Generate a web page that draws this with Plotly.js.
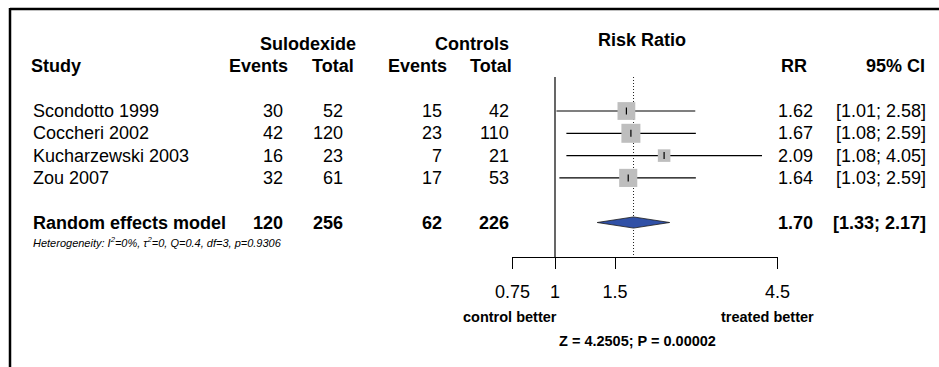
<!DOCTYPE html>
<html>
<head>
<meta charset="utf-8">
<script src="https://cdn.plot.ly/plotly-3.0.1.min.js"></script>
<style>html,body{margin:0;padding:0;background:#fff;}#chart{width:939px;height:367px;}</style>
</head>
<body>
<div id="chart"></div>
<script>
// ---- data ----
const studies = ["Scondotto 1999", "Coccheri 2002", "Kucharzewski 2003", "Zou 2007"];
const sulEvents = [30, 42, 16, 32];
const sulTotal = [52, 120, 23, 61];
const ctlEvents = [15, 23, 7, 17];
const ctlTotal = [42, 110, 21, 53];
const rr = [1.62, 1.67, 2.09, 1.64];
const ciLow = [1.01, 1.08, 1.08, 1.03];
const ciHigh = [2.58, 2.59, 4.05, 2.59];
const pooledLabel = "Random effects model";
const pooledCounts = [120, 256, 62, 226];
const pooledRR = [1.70, 1.33, 2.17]; // estimate, lower, upper
const tickVals = [0.75, 1, 1.5, 4.5];
const tickText = ["0.75", "1", "1.5", "4.5"];
const hetText = "Heterogeneity: I<sup>2</sup>=0%, τ<sup>2</sup>=0, Q=0.4, df=3, p=0.9306";
const testText = "Z = 4.2505; P = 0.00002";
const leftLabel = "control better";
const rightLabel = "treated better";

// ---- geometry (layout only) ----
const W = 939, H = 367;
const NULL_PX = 555, PX_PER_LN = 148;
const PX_PER_LOG10 = PX_PER_LN * Math.LN10;
const xr = [(0 - NULL_PX) / PX_PER_LOG10, (W - NULL_PX) / PX_PER_LOG10];
const ROW0 = 111, ROWH = 22.3;
const yr = [(H - ROW0) / ROWH, (0 - ROW0) / ROWH];
const rowOfPx = p => (p - ROW0) / ROWH;
const px = p => p / W;
const fam = "Liberation Sans, Arial, Helvetica, sans-serif";
const FS = 18;

const rows = studies.map((s, i) => i);
const sumRow = studies.length + 1;
const topY = rowOfPx(77), axisY = rowOfPx(257);

// box side ∝ sqrt(inverse-variance weight); drawn as data-space rectangles
const w = studies.map((s, i) => 1 / (1 / sulEvents[i] - 1 / sulTotal[i] + 1 / ctlEvents[i] - 1 / ctlTotal[i]));
const wmax = Math.max(...w);
const MAXBOX = 19; // px
const boxHalf = w.map(v => MAXBOX * Math.sqrt(v / wmax) / 2);

const traces = [
  { x: [pooledRR[0], pooledRR[0]], y: [topY, axisY], mode: "lines", line: { color: "#222", width: 1, dash: "1px,2px" }, hoverinfo: "skip" },
  { x: [1, 1], y: [topY, axisY], mode: "lines", line: { color: "black", width: 1.2 }, hoverinfo: "skip" }
];
// CI lines
studies.forEach((s, i) => {
  traces.push({ x: [ciLow[i], ciHigh[i]], y: [rows[i], rows[i]], mode: "lines", line: { color: "black", width: 1.2 }, hoverinfo: "skip" });
});
// boxes
studies.forEach((s, i) => {
  const fx = Math.exp(boxHalf[i] / PX_PER_LN), dy = boxHalf[i] / ROWH;
  const x0 = rr[i] / fx, x1 = rr[i] * fx;
  traces.push({ x: [x0, x1, x1, x0, x0], y: [rows[i] - dy, rows[i] - dy, rows[i] + dy, rows[i] + dy, rows[i] - dy],
    mode: "lines", fill: "toself", fillcolor: "#BEBEBE", line: { width: 0, color: "rgba(0,0,0,0)" }, hoverinfo: "skip" });
});
// point estimate ticks
traces.push({ x: rr, y: rows, mode: "markers", marker: { symbol: "line-ns", size: 5, line: { width: 1.2, color: "black" } }, hoverinfo: "skip" });
// pooled diamond
traces.push({ x: [pooledRR[1], pooledRR[0], pooledRR[2], pooledRR[0], pooledRR[1]],
  y: [sumRow, sumRow - 0.25, sumRow, sumRow + 0.25, sumRow], mode: "lines", fill: "toself",
  fillcolor: "#3050A6", line: { color: "#1a1a1a", width: 0.8 }, hoverinfo: "skip" });
// anchor trace for the visible RR axis
traces.push({ x: [1], y: [-100], xaxis: "x2", yaxis: "y", mode: "markers", marker: { size: 1, color: "rgba(0,0,0,0)" }, hoverinfo: "skip" });

const anns = [];
function A(text, xp, row, anchor, opts) {
  opts = opts || {};
  anns.push({
    text: text, x: px(xp), y: row, xref: "paper", yref: "y", xanchor: anchor, yanchor: "middle",
    showarrow: false, borderpad: 0, borderwidth: 0,
    font: { family: fam, size: opts.size || FS, color: "black" }
  });
}
const b = t => "<b>" + t + "</b>";

// headers
A(b("Sulodexide"), 308, -3, "center");
A(b("Controls"), 472, -3, "center");
A(b("Risk Ratio"), 642, rowOfPx(40), "center");
A(b("Study"), 31, -2, "left");
A(b("Events"), 288, -2, "right");
A(b("Total"), 354, -2, "right");
A(b("Events"), 447, -2, "right");
A(b("Total"), 512, -2, "right");
A(b("RR"), 807, -2, "right");
A(b("95% CI"), 925, -2, "right");

// study rows
studies.forEach((s, i) => {
  A(s, 33, rows[i], "left");
  A(String(sulEvents[i]), 283, rows[i], "right");
  A(String(sulTotal[i]), 343, rows[i], "right");
  A(String(ctlEvents[i]), 442, rows[i], "right");
  A(String(ctlTotal[i]), 509, rows[i], "right");
  A(rr[i].toFixed(2), 813, rows[i], "right");
  A("[" + ciLow[i].toFixed(2) + "; " + ciHigh[i].toFixed(2) + "]", 926, rows[i], "right");
});

// pooled row
A(b(pooledLabel), 33, sumRow, "left");
A(b(String(pooledCounts[0])), 283, sumRow, "right");
A(b(String(pooledCounts[1])), 343, sumRow, "right");
A(b(String(pooledCounts[2])), 442, sumRow, "right");
A(b(String(pooledCounts[3])), 509, sumRow, "right");
A(b(pooledRR[0].toFixed(2)), 813, sumRow, "right");
A(b("[" + pooledRR[1].toFixed(2) + "; " + pooledRR[2].toFixed(2) + "]"), 926, sumRow, "right");

A("<i>" + hetText + "</i>", 33, rowOfPx(242), "left", { size: 11 });

A(b(leftLabel), 510, rowOfPx(317), "center", { size: 14.5 });
A(b(rightLabel), 767, rowOfPx(317), "center", { size: 14.5 });
A(b(testText), 637, rowOfPx(341), "center", { size: 14.5 });

const lo10 = Math.log10(tickVals[0]), hi10 = Math.log10(tickVals[tickVals.length - 1]);
const d0 = (lo10 - xr[0]) / (xr[1] - xr[0]);
const d1 = (hi10 - xr[0]) / (xr[1] - xr[0]);

const layout = {
  width: W, height: H,
  margin: { l: 0, r: 0, t: 0, b: 0, pad: 0 },
  paper_bgcolor: "white", plot_bgcolor: "rgba(0,0,0,0)",
  showlegend: false,
  xaxis: { type: "log", range: xr, domain: [0, 1], visible: false, fixedrange: true },
  yaxis: { range: yr, domain: [0, 1], visible: false, fixedrange: true },
  xaxis2: {
    type: "log", range: [lo10, hi10], domain: [d0, d1], anchor: "free", position: 1 - 257 / H,
    showline: true, linecolor: "black", linewidth: 1, showgrid: false, zeroline: false,
    tickmode: "array", tickvals: tickVals, ticktext: tickText,
    ticks: "outside", ticklen: 11, tickwidth: 1, tickcolor: "black", ticklabelstandoff: 7,
    tickfont: { family: fam, size: FS, color: "black" }, fixedrange: true
  },
  shapes: [
    { type: "line", xref: "paper", yref: "paper", x0: px(10), x1: 1, y0: 1 - 9 / H, y1: 1 - 9 / H, line: { color: "black", width: 2.5 } },
    { type: "line", xref: "paper", yref: "paper", x0: px(10), x1: px(10), y0: 0, y1: 1 - 8 / H, line: { color: "black", width: 2.5 } }
  ],
  annotations: anns
};

Plotly.newPlot("chart", traces, layout, { staticPlot: true, displayModeBar: false });
</script>
</body>
</html>
